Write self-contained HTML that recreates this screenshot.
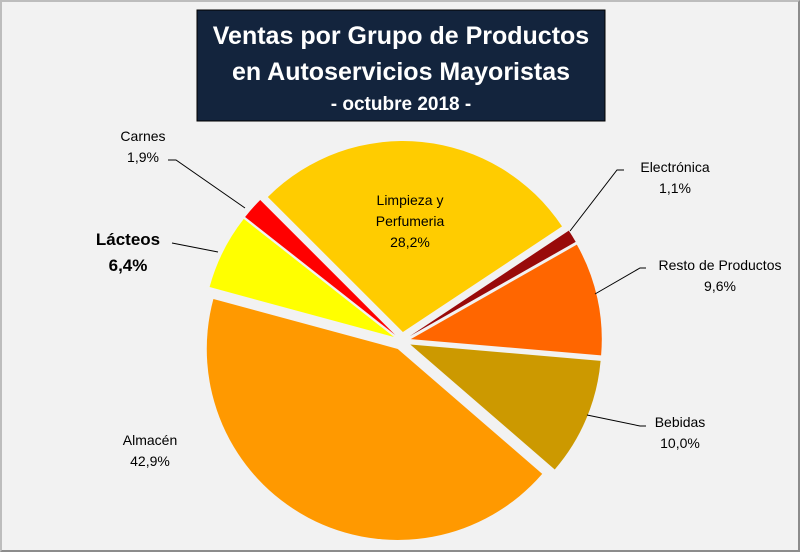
<!DOCTYPE html>
<html><head><meta charset="utf-8"><style>
body{margin:0;width:800px;height:552px;overflow:hidden;background:#fff}
#wrap{position:absolute;left:0;top:0;width:796px;height:548px;background:#f2f2f2;border:2px solid #8c8c8c;border-top-color:#bdbdbd;border-left-color:#bdbdbd}
text{font-family:"Liberation Sans",sans-serif}
</style></head><body>
<div id="wrap"></div>
<svg id="chart" width="800" height="552" style="position:absolute;left:0;top:0">
<rect x="197" y="10" width="408" height="111" fill="#13243d" stroke="#000"/>
<text x="401" y="44" text-anchor="middle" fill="#fff" font-size="25" font-weight="bold">Ventas por Grupo de Productos</text>
<text x="401" y="80" text-anchor="middle" fill="#fff" font-size="25" font-weight="bold">en Autoservicios Mayoristas</text>
<text x="401" y="110" text-anchor="middle" fill="#fff" font-size="19" font-weight="bold">- octubre 2018 -</text>
<g id="slices"></g>
<g stroke="#000" stroke-width="1" fill="none">
<polyline points="168,160 176,160 245,208"/>
<polyline points="172,243 218,252"/>
<polyline points="624,170 617,170 570,231"/>
<polyline points="646,268 640,268 595,294"/>
<polyline points="646,426 640,426 587,415"/>
</g>
<g font-size="14" fill="#000" text-anchor="middle">
<text x="143" y="141">Carnes</text>
<text x="143" y="162">1,9%</text>
<text x="128" y="245" font-size="17" font-weight="bold">Lácteos</text>
<text x="128" y="271" font-size="17" font-weight="bold">6,4%</text>
<text x="675" y="172">Electrónica</text>
<text x="675" y="193">1,1%</text>
<text x="720" y="270">Resto de Productos</text>
<text x="720" y="291">9,6%</text>
<text x="680" y="427">Bebidas</text>
<text x="680" y="448">10,0%</text>
<text x="150" y="445">Almacén</text>
<text x="150" y="466">42,9%</text>
<text x="410" y="205">Limpieza y</text>
<text x="410" y="226">Perfumeria</text>
<text x="410" y="247">28,2%</text>
</g>
</svg>
<script>
const categories=["Limpieza y Perfumeria","Electrónica","Resto de Productos","Bebidas","Almacén","Lácteos","Carnes"];
const values=[28.2,1.1,9.6,10.0,42.9,6.4,1.9];
const colors=["#ffcc00","#990a0a","#ff6600","#cc9900","#ff9900","#ffff00","#ff0000"];
const names=["slice-limpieza","slice-electronica","slice-resto","slice-bebidas","slice-almacen","slice-lacteos","slice-carnes"];
const cx=402,cy=341,R=191,EX=9,START=-45;
const g=document.getElementById('slices');
const total=values.reduce((a,b)=>a+b,0);
let a=START;
function pt(x,y,deg,r){const t=deg*Math.PI/180;return [x+r*Math.sin(t),y-r*Math.cos(t)];}
values.forEach((v,i)=>{
  const sweep=v/total*360,mid=a+sweep/2;
  const [ox,oy]=pt(cx,cy,mid,EX);
  const p1=pt(ox,oy,a,R),p2=pt(ox,oy,a+sweep,R);
  const d=`M${ox},${oy}L${p1[0]},${p1[1]}A${R},${R} 0 ${sweep>180?1:0} 1 ${p2[0]},${p2[1]}Z`;
  const p=document.createElementNS('http://www.w3.org/2000/svg','path');
  p.setAttribute('d',d);p.setAttribute('fill',colors[i]);
  
  
  g.appendChild(p);
  a+=sweep;
});
</script>
</body></html>
